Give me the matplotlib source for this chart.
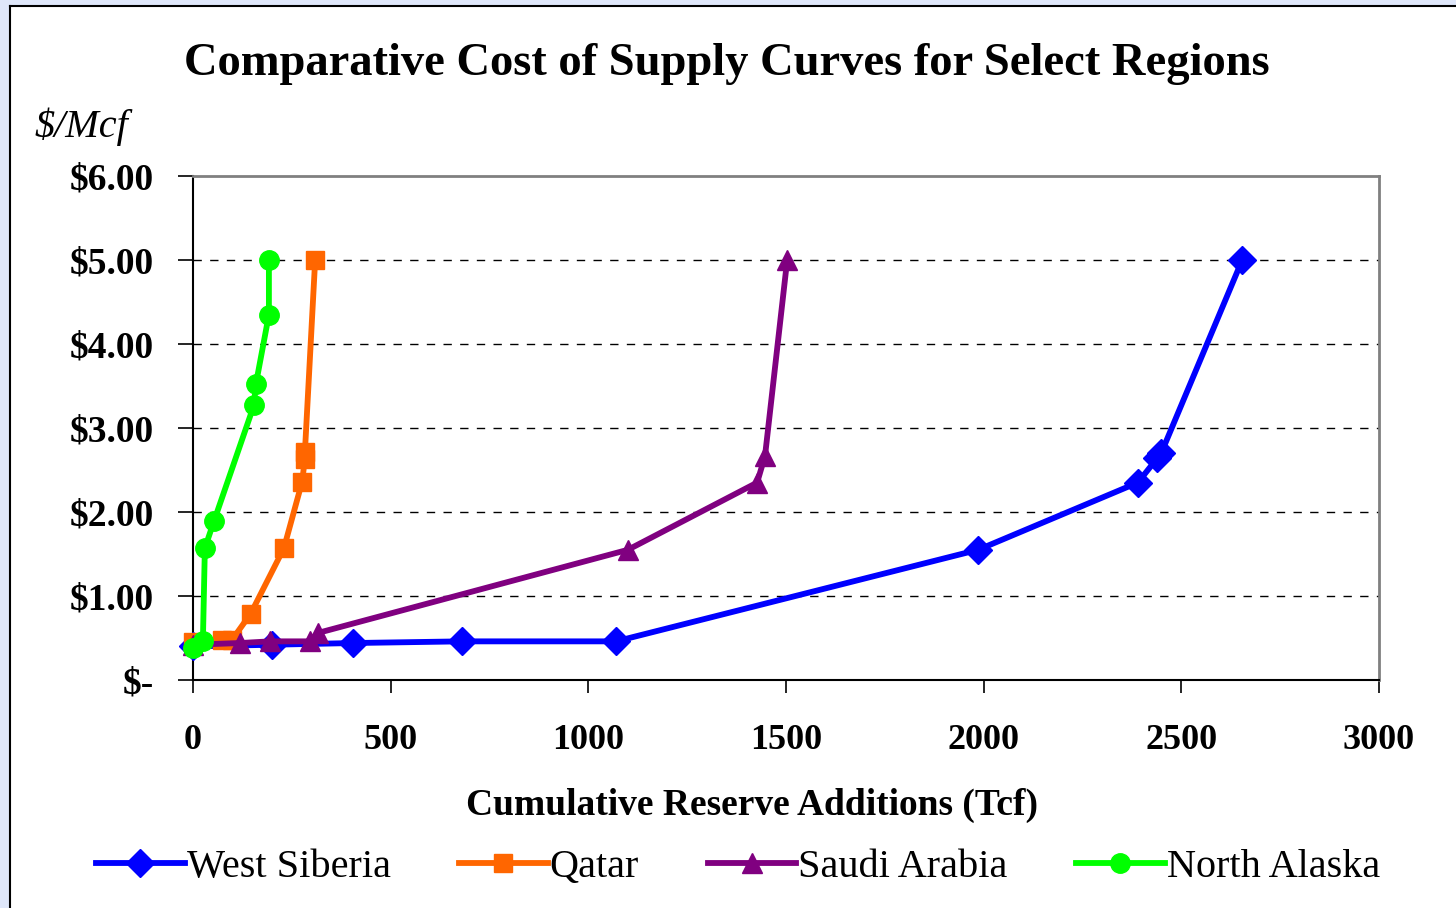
import matplotlib.pyplot as plt

# data (Tcf, $/Mcf)
ws_x = [0, 200, 404, 680, 1070, 1986, 2390, 2439, 2449, 2654]
ws_y = [0.40, 0.42, 0.44, 0.46, 0.46, 1.55, 2.35, 2.64, 2.70, 5.00]

qa_x = [0, 73, 99, 146, 230, 276, 283, 283, 309]
qa_y = [0.45, 0.48, 0.48, 0.79, 1.57, 2.36, 2.63, 2.71, 5.00]

sa_x = [0, 119, 195, 296, 316, 1100, 1427, 1447, 1503]
sa_y = [0.42, 0.44, 0.46, 0.46, 0.56, 1.55, 2.35, 2.67, 5.00]

na_x = [0, 25, 30, 53, 154, 159, 192, 192]
na_y = [0.38, 0.46, 1.57, 1.89, 3.27, 3.52, 4.35, 5.00]

y_ticks = [0, 1, 2, 3, 4, 5, 6]
y_labels = ['$-', '$1.00', '$2.00', '$3.00', '$4.00', '$5.00', '$6.00']
x_ticks = [0, 500, 1000, 1500, 2000, 2500, 3000]

plt.rcParams['font.family'] = ['Liberation Serif', 'DejaVu Serif']

fig = plt.figure(figsize=(14.56, 9.08), dpi=100)
fig.patch.set_facecolor('#dfe7fa')

# white panel with black frame, behind everything
bg = fig.add_axes([10 / 1456, -0.02, 1.0, 1 - 6 / 908 + 0.02], zorder=-10)
bg.set_facecolor('white')
bg.set_xticks([])
bg.set_yticks([])
for s in bg.spines.values():
    s.set_linewidth(1.5)
    s.set_color('black')

ax = fig.add_axes([193 / 1456, 1 - 680 / 908, (1379 - 193) / 1456, (680 - 176) / 908])
ax.set_facecolor('white')

lw = 4.2
ax.plot(ws_x, ws_y, color='#0000ff', marker='D', markersize=14, linewidth=lw,
        label='West Siberia', clip_on=False, zorder=3)
ax.plot(qa_x, qa_y, color='#ff6600', marker='s', markersize=13, linewidth=lw,
        label='Qatar', clip_on=False, zorder=4)
ax.plot(sa_x, sa_y, color='#800080', marker='^', markersize=15, linewidth=lw,
        label='Saudi Arabia', clip_on=False, zorder=5)
ax.plot(na_x, na_y, color='#00ff00', marker='o', markersize=14, linewidth=lw,
        label='North Alaska', clip_on=False, zorder=6)

ax.set_xlim(0, 3000)
ax.set_ylim(0, 6)
ax.set_xticks(x_ticks)
ax.set_xticklabels([str(t) for t in x_ticks], fontsize=26, fontweight='bold')
ax.set_yticks(y_ticks)
ax.set_yticklabels(y_labels, fontsize=27, fontweight='bold')
ax.tick_params(axis='x', direction='out', length=9, width=1.2, pad=23)
ax.tick_params(axis='y', direction='out', length=11, width=1.2, pad=17)

for y in y_ticks[1:-1]:
    ax.axhline(y, color='black', linestyle=(0, (6, 6)), linewidth=1, zorder=1)

ax.spines['left'].set_color('black')
ax.spines['bottom'].set_color('black')
ax.spines['left'].set_linewidth(1.5)
ax.spines['bottom'].set_linewidth(1.5)
ax.spines['top'].set_color('#808080')
ax.spines['right'].set_color('#808080')
ax.spines['top'].set_linewidth(2)
ax.spines['right'].set_linewidth(2)

fig.text(752 / 1456, 1 - 805 / 908, 'Cumulative Reserve Additions (Tcf)',
         ha='center', va='center', fontsize=27, fontweight='bold')

fig.text(727 / 1456, 1 - 64 / 908, 'Comparative Cost of Supply Curves for Select Regions',
         ha='center', va='center', fontsize=33.5, fontweight='bold')
fig.text(35 / 1456, 1 - 127 / 908, '$/Mcf', ha='left', va='center',
         fontsize=29, fontstyle='italic')

fig.legend(loc='center', bbox_to_anchor=(738 / 1456, 1 - 867 / 908), ncol=4,
           frameon=False, fontsize=29, handlelength=2.2, columnspacing=1.7,
           handletextpad=0.05)

fig.savefig('out.png', dpi=100, facecolor=fig.get_facecolor())
